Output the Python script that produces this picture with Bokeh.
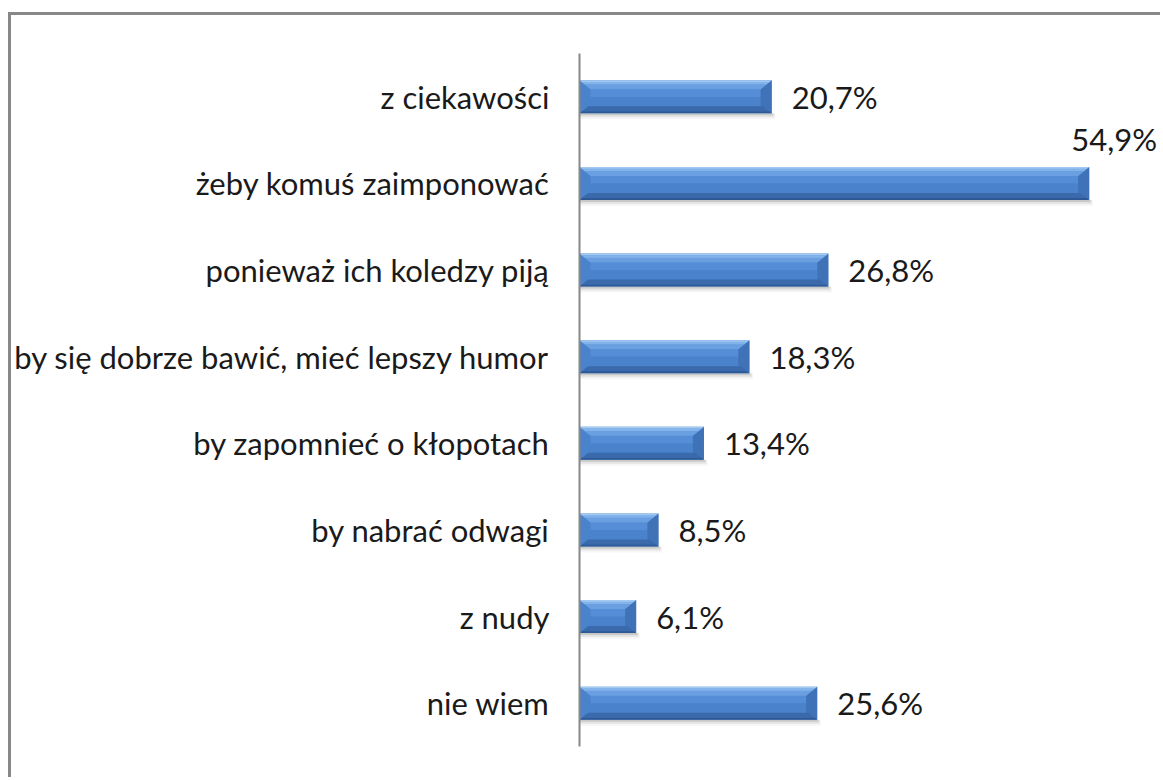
from bokeh.plotting import figure
from bokeh.models import Range1d, FixedTicker, ColumnDataSource
from bokeh.core.properties import value
from bokeh.embed import file_html
from bokeh.resources import INLINE

# ---- data ----
categories = [
    "z ciekawości",
    "żeby komuś zaimponować",
    "ponieważ ich koledzy piją",
    "by się dobrze bawić, mieć lepszy humor",
    "by zapomnieć o kłopotach",
    "by nabrać odwagi",
    "z nudy",
    "nie wiem",
]
values = [20.7, 54.9, 26.8, 18.3, 13.4, 8.5, 6.1, 25.6]
value_labels = ["20,7%", "54,9%", "26,8%", "18,3%", "13,4%", "8,5%", "6,1%", "25,6%"]

# ---- geometry / style ----
OFF_X, OFF_Y = 11, 15          # canvas origin on page (after margin + border)
W, H = 1163 - OFF_X, 780 - OFF_Y
MB_LEFT, MB_TOP, MB_BOTTOM, MB_RIGHT = 578 - OFF_X, 53 - OFF_Y, 34, 0
n = len(categories)
frame_w = W - MB_LEFT - MB_RIGHT
frame_h = H - MB_TOP - MB_BOTTOM
PX_PER_PCT = 9.3
X_END = frame_w / PX_PER_PCT
px_x = X_END / frame_w          # data units per pixel (x)
px_y = n / frame_h              # data units per pixel (y)

FONT = "Lato"
FS = "31px"
p = figure(width=W, height=H, output_backend="svg", toolbar_location=None,
           x_range=Range1d(0, X_END), y_range=Range1d(n, 0),
           min_border_left=MB_LEFT, min_border_top=MB_TOP,
           min_border_bottom=MB_BOTTOM, min_border_right=MB_RIGHT,
           styles={"margin-left": "8px", "margin-top": "12px",
                   "border-left": "3px solid #888888",
                   "border-top": "3px solid #888888"})
p.outline_line_color = None
p.background_fill_color = "white"
p.border_fill_color = "white"
p.grid.visible = False
p.xaxis.visible = False

centers = [i + 0.5 for i in range(n)]
p.yaxis.ticker = FixedTicker(ticks=centers)
p.yaxis.major_label_overrides = {c: lab for c, lab in zip(centers, categories)}
p.yaxis.axis_line_color = "#888888"
p.yaxis.axis_line_width = 2
p.yaxis.major_tick_line_color = None
p.yaxis.minor_tick_line_color = None
p.yaxis.major_tick_out = 0
p.yaxis.major_tick_in = 0
p.yaxis.major_label_standoff = 30
p.yaxis.major_label_text_font = FONT
p.yaxis.major_label_text_font_size = FS
p.yaxis.major_label_text_color = "#1a1a1a"

# ---- bars with bevel look ----
body_h = 33 * px_y
bev_x = 11 * px_x
bev_top = 9 * px_y
bev_bot = 7 * px_y

tops = [c - body_h / 2 for c in centers]
bots = [c + body_h / 2 for c in centers]

# soft shadow under the bar
for off, a in [(2, 0.20), (4, 0.12), (6, 0.06)]:
    p.quad(left=[0] * n, right=[v + off * 0.6 * px_x for v in values],
           top=bots, bottom=[b + off * px_y for b in bots],
           fill_color="#606060", fill_alpha=a, line_color=None)

# base of the bar (hides seams between the facets)
p.quad(left=[0] * n, right=values, top=tops, bottom=bots,
       fill_color="#4a83cc", line_color=None)

def trap(pts_fn, color):
    xs, ys = [], []
    for v, t, b in zip(values, tops, bots):
        pts = pts_fn(v, t, b)
        xs.append([q[0] for q in pts])
        ys.append([q[1] for q in pts])
    p.patches(xs, ys, fill_color=color, line_color=None)

# inner body gradient
inner = [("#558ed6", 0.0, 0.45), ("#4a83cc", 0.45, 1.0)]
for col, f0, f1 in inner:
    p.quad(left=[bev_x] * n, right=[v - bev_x for v in values],
           top=[t + bev_top + f0 * (b - t - bev_top - bev_bot) for t, b in zip(tops, bots)],
           bottom=[t + bev_top + f1 * (b - t - bev_top - bev_bot) for t, b in zip(tops, bots)],
           fill_color=col, line_color=None)

# right band (darker)
trap(lambda v, t, b: [(v, t), (v - bev_x, t + bev_top), (v - bev_x, b - bev_bot), (v, b)], "#3f72b7")

# top band, graded from light edge inward
sx = bev_x / bev_top
top_strips = [("#a2c9f2", 0.0, 2.0), ("#82b3eb", 1.6, 4.5), ("#6aa0e2", 4.1, 9.0)]
for col, a0, a1 in top_strips:
    trap(lambda v, t, b, a0=a0, a1=a1: [
        (a0 * px_y * sx, t + a0 * px_y), (v - a0 * px_y * sx, t + a0 * px_y),
        (v - a1 * px_y * sx, t + a1 * px_y), (a1 * px_y * sx, t + a1 * px_y)], col)

# bottom band, darker towards the edge
bot_strips = [("#2d5894", 0.0, 2.3), ("#3a6aab", 1.9, 7.0)]
for col, a0, a1 in bot_strips:
    trap(lambda v, t, b, a0=a0, a1=a1: [
        (a0 * px_y * sx, b - a0 * px_y), (v - a0 * px_y * sx, b - a0 * px_y),
        (v - a1 * px_y * sx, b - a1 * px_y), (a1 * px_y * sx, b - a1 * px_y)], col)

# ---- value labels ----
fits = [v + 90 * px_x < X_END for v in values]
src_in = ColumnDataSource(dict(
    x=[v for v, f in zip(values, fits) if f],
    y=[c for c, f in zip(centers, fits) if f],
    t=[t for t, f in zip(value_labels, fits) if f]))
src_out = ColumnDataSource(dict(
    x=[v for v, f in zip(values, fits) if not f],
    y=[c for c, f in zip(centers, fits) if not f],
    t=[t for t, f in zip(value_labels, fits) if not f]))
p.text(x="x", y="y", text="t", x_offset=20, source=src_in,
       text_font=value(FONT), text_font_size=FS, text_color="#1a1a1a",
       text_align="left", text_baseline="middle")
p.text(x="x", y="y", text="t", x_offset=68, y_offset=-44, source=src_out,
       text_font=value(FONT), text_font_size=FS, text_color="#1a1a1a",
       text_align="right", text_baseline="middle")

open("out.html", "w").write(file_html(p, INLINE))
